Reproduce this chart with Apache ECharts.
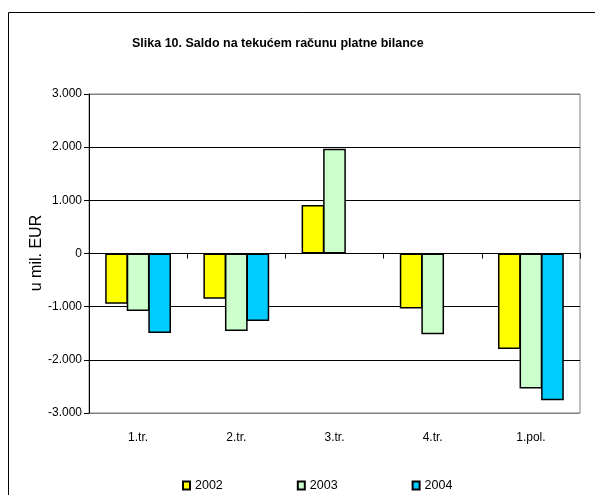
<!DOCTYPE html>
<html>
<head>
<meta charset="utf-8">
<script src="https://cdn.jsdelivr.net/npm/echarts@6/dist/echarts.min.js"></script>
<style>
  html, body { margin: 0; padding: 0; background: #fff; }
  #chart { width: 595px; height: 495px; }
</style>
</head>
<body>
<div id="chart"></div>
<script>
// Current account balance, in million EUR
const categories = ['1.tr.', '2.tr.', '3.tr.', '4.tr.', '1.pol.'];
const years = ['2002', '2003', '2004'];
const values2002 = [-945, -850, 910, -1035, -1795];
const values2003 = [-1080, -1460, 1970, -1520, -2540];
const values2004 = [-1495, -1270, null, null, -2760];
const yTicks = { min: -3000, max: 3000, step: 1000 };
const yAxisTitle = 'u mil. EUR';

const FONT = "'Liberation Sans', Arial, sans-serif";
const colors = ['#FFFF00', '#CCFFCC', '#00CCFF'];
const seriesValues = [values2002, values2003, values2004];

function fmt(v) {
  const s = Math.abs(v).toString().replace(/\B(?=(\d{3})+(?!\d))/g, '.');
  return (v < 0 ? '-' : '') + s;
}

const chart = echarts.init(document.getElementById('chart'));
chart.setOption({
  animation: false,
  backgroundColor: '#fff',
  title: {
    text: 'Slika 10. Saldo na tekućem računu platne bilance',
    left: 127, top: 32,
    textStyle: { fontFamily: FONT, fontSize: 12.5, fontWeight: 'bold', color: '#000' }
  },
  graphic: [{
    // outer frame
    type: 'rect', silent: true, z: -1,
    shape: { x: 8.5, y: 12.5, width: 700, height: 600 },
    style: { fill: 'none', stroke: '#000', lineWidth: 1 }
  }, {
    // vertical axis title
    type: 'text', silent: true,
    x: 37, y: 253, rotation: Math.PI / 2,
    style: {
      text: yAxisTitle, fill: '#000', font: '16px ' + FONT,
      textAlign: 'center', textVerticalAlign: 'middle'
    }
  }],
  legend: {
    data: years,
    left: 177, top: 474,
    icon: 'rect', itemWidth: 7, itemHeight: 8, itemGap: 74,
    textStyle: { fontFamily: FONT, fontSize: 12.5, color: '#000' }
  },
  grid: {
    left: 89, right: 15, top: 94, bottom: 82,
    show: true, borderColor: '#808080', borderWidth: 1, backgroundColor: 'transparent'
  },
  xAxis: [{
    type: 'category', data: categories, position: 'bottom',
    axisLine: { show: false, onZero: false },
    axisTick: { show: false },
    axisLabel: { margin: 19, fontFamily: FONT, fontSize: 12, color: '#000' }
  }, {
    type: 'category', data: categories, position: 'bottom',
    axisLine: { show: true, onZero: true, lineStyle: { color: '#000', width: 1 } },
    axisTick: { show: true, length: 5, lineStyle: { color: '#000' } },
    axisLabel: { show: false }
  }],
  yAxis: {
    type: 'value', min: yTicks.min, max: yTicks.max, interval: yTicks.step,
    axisLine: { show: true, lineStyle: { color: '#000', width: 1 } },
    axisTick: { show: true, length: 5, lineStyle: { color: '#000' } },
    axisLabel: { margin: 7, fontFamily: FONT, fontSize: 12, color: '#000', formatter: fmt },
    splitLine: {
      show: true,
      lineStyle: { width: 1, color: ['#808080', '#000', '#000', '#000', '#000', '#000', '#808080'] }
    }
  },
  series: years.map((y, i) => ({
    name: y, type: 'bar', xAxisIndex: 0,
    data: seriesValues[i],
    barGap: '-5%', barCategoryGap: '33%',
    itemStyle: { color: colors[i], borderColor: '#000', borderWidth: 1.5 }
  }))
});
</script>
</body>
</html>
